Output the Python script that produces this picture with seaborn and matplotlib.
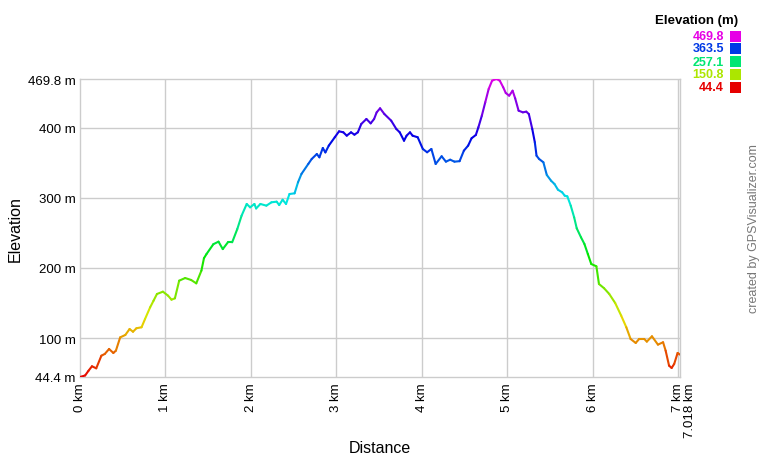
import colorsys
import matplotlib
matplotlib.use("Agg")
import matplotlib.pyplot as plt
from matplotlib.patches import Rectangle
import pandas as pd
import seaborn as sns

# ---- data ----
distance_km = [0.00, 0.06, 0.10, 0.14, 0.19, 0.25, 0.29, 0.34, 0.39, 0.42, 0.47, 0.53,
               0.58, 0.62, 0.66, 0.72, 0.76, 0.82, 0.86, 0.90, 0.97, 1.03, 1.07, 1.11,
               1.16, 1.23, 1.30, 1.36, 1.42, 1.45, 1.48, 1.56, 1.62, 1.67, 1.73, 1.78,
               1.84, 1.89, 1.95, 1.99, 2.04, 2.06, 2.11, 2.18, 2.24, 2.30, 2.33, 2.37,
               2.41, 2.45, 2.51, 2.55, 2.59, 2.67, 2.71, 2.77, 2.80, 2.84, 2.87, 2.91,
               2.98, 3.03, 3.08, 3.12, 3.17, 3.21, 3.25, 3.29, 3.35, 3.40, 3.44, 3.47,
               3.51, 3.56, 3.64, 3.70, 3.74, 3.79, 3.82, 3.86, 3.89, 3.95, 4.01, 4.06,
               4.11, 4.16, 4.23, 4.28, 4.33, 4.38, 4.44, 4.49, 4.54, 4.58, 4.63, 4.66,
               4.70, 4.74, 4.78, 4.82, 4.87, 4.91, 4.95, 4.98, 5.02, 5.06, 5.09, 5.13,
               5.18, 5.22, 5.25, 5.29, 5.32, 5.34, 5.37, 5.42, 5.46, 5.51, 5.55, 5.59,
               5.64, 5.67, 5.70, 5.74, 5.78, 5.81, 5.86, 5.90, 5.94, 5.98, 6.04, 6.07,
               6.13, 6.19, 6.26, 6.33, 6.39, 6.44, 6.50, 6.54, 6.60, 6.63, 6.69, 6.76,
               6.82, 6.85, 6.89, 6.92, 6.95, 6.99, 7.018]
elevation_m = [44.4, 46.6, 53.4, 59.7, 56.8, 74.8, 77.3, 84.4, 78.7, 82.0, 101.0, 104.4,
               112.9, 109.0, 114.0, 115.4, 127.0, 143.8, 153.3, 162.9, 166.2, 160.5, 154.8, 156.7,
               181.9, 185.7, 182.9, 178.1, 196.2, 214.0, 220.0, 234.0, 237.6, 227.0, 236.7, 236.7,
               255.7, 274.7, 291.4, 286.6, 291.4, 285.0, 291.4, 289.0, 293.8, 294.7, 289.9, 297.5,
               291.4, 305.6, 306.6, 322.3, 334.2, 348.5, 355.6, 362.7, 358.0, 371.3, 365.0, 374.7,
               386.6, 395.1, 393.7, 388.9, 393.7, 390.3, 393.7, 405.6, 412.7, 406.5, 412.7, 422.2,
               428.0, 419.8, 410.3, 398.4, 393.7, 381.7, 388.9, 393.7, 388.9, 386.6, 369.9, 365.2,
               369.9, 348.5, 359.5, 351.8, 354.6, 351.8, 352.5, 367.5, 374.7, 385.2, 389.9, 400.9,
               417.4, 436.5, 455.5, 467.4, 469.8, 467.4, 458.0, 449.8, 446.0, 453.1, 442.2, 424.6,
               422.2, 423.2, 419.8, 398.4, 379.4, 360.3, 355.6, 350.9, 332.8, 324.6, 319.9, 311.8,
               308.0, 303.2, 302.3, 289.0, 272.3, 256.7, 243.8, 234.3, 220.0, 205.7, 202.4, 177.2,
               171.1, 163.0, 150.0, 132.0, 115.4, 98.7, 93.0, 98.7, 98.7, 94.9, 102.5, 90.6,
               94.0, 82.0, 60.6, 57.3, 63.0, 78.7, 76.3]

y_ticks = [44.4, 100, 200, 300, 400, 469.8]
y_tick_labels = ["44.4 m", "100 m", "200 m", "300 m", "400 m", "469.8 m"]
x_ticks = [0, 1, 2, 3, 4, 5, 6, 7]
x_tick_labels = ["0 km", "1 km", "2 km", "3 km", "4 km", "5 km", "6 km", "7 km"]
x_end = 7.018
x_end_label = "7.018 km"
legend_title = "Elevation (m)"
legend_values = [469.8, 363.5, 257.1, 150.8, 44.4]
x_label = "Distance"
y_label = "Elevation"
credit = "created by GPSVisualizer.com"

E_MIN, E_MAX = 44.4, 469.8


def elev_color(e):
    t = (e - E_MIN) / (E_MAX - E_MIN)
    t = min(max(t, 0.0), 1.0)
    return colorsys.hsv_to_rgb(300.0 * t / 360.0, 1.0, 0.9)


# ---- style ----
sns.set_theme(style="white")
plt.rcParams["font.family"] = ["Liberation Sans", "DejaVu Sans"]

W, H = 760, 460
fig = plt.figure(figsize=(W / 100, H / 100), dpi=100)
L, R, T, B = 80, 680, 80, 378
ax = fig.add_axes([L / W, 1 - B / H, (R - L) / W, (B - T) / H])

# segments table built from the data, each coloured by its mean elevation
rows = []
palette = {}
for i in range(len(distance_km) - 1):
    sid = f"s{i:03d}"
    palette[sid] = elev_color((elevation_m[i] + elevation_m[i + 1]) / 2)
    rows.append({"d": distance_km[i], "e": elevation_m[i], "seg": sid})
    rows.append({"d": distance_km[i + 1], "e": elevation_m[i + 1], "seg": sid})
df = pd.DataFrame(rows)

sns.lineplot(data=df, x="d", y="e", hue="seg", palette=palette, estimator=None,
             sort=False, legend=False, linewidth=1.5, solid_capstyle="round", ax=ax,
             zorder=3)

ax.set_xlim(0, x_end)
ax.set_ylim(E_MIN, E_MAX)

grid_c = "#cccccc"
for v in x_ticks[1:]:
    ax.axvline(v, color=grid_c, lw=1.0, zorder=1)
for v in y_ticks[1:-1]:
    ax.axhline(v, color=grid_c, lw=1.0, zorder=1)
for s in ax.spines.values():
    s.set_color(grid_c)
    s.set_linewidth(1.0)

ax.set_yticks(y_ticks)
ax.set_yticklabels(y_tick_labels)
ax.set_xticks(x_ticks)
ax.set_xticklabels(x_tick_labels, rotation=90)
ax.tick_params(axis="both", length=0, labelsize=9.5, colors="black")
ax.tick_params(axis="y", pad=3)
ax.tick_params(axis="x", pad=4)
for lab in ax.get_xticklabels():
    lab.set_va("top")

ax.annotate(x_end_label, xy=(x_end, E_MIN), xycoords="data", xytext=(10, -5),
            textcoords="offset pixels", rotation=90, ha="center", va="top",
            fontsize=9.5, color="black", annotation_clip=False)

ax.set_xlabel(x_label, fontsize=11.5, color="black")
ax.set_ylabel(y_label, fontsize=11.5, color="black")
ax.xaxis.set_label_coords(0.5, -(441 - B) / (B - T))
ax.yaxis.set_label_coords((23 - L) / (R - L), 1 - (229 - T) / (B - T))

# credit
fig.text(754 / W, 1 - 229 / H, credit, rotation=90, ha="center", va="center",
         fontsize=9, color="#777777")

# legend
fig.text(738 / W, 1 - 21 / H, legend_title, ha="right", va="center",
         fontsize=9.5, fontweight="bold", color="black")
row_y = [37, 49.5, 62.5, 75.5, 88]
for v, yc in zip(legend_values, row_y):
    c = elev_color(v)
    fig.text(724 / W, 1 - yc / H, f"{v:.1f}", ha="right", va="center",
             fontsize=9, fontweight="bold", color=c)
    fig.add_artist(Rectangle((730 / W, 1 - (yc + 5.5) / H), 11 / W, 11 / H,
                             transform=fig.transFigure, color=c, lw=0))

fig.savefig("out.png", dpi=100)
